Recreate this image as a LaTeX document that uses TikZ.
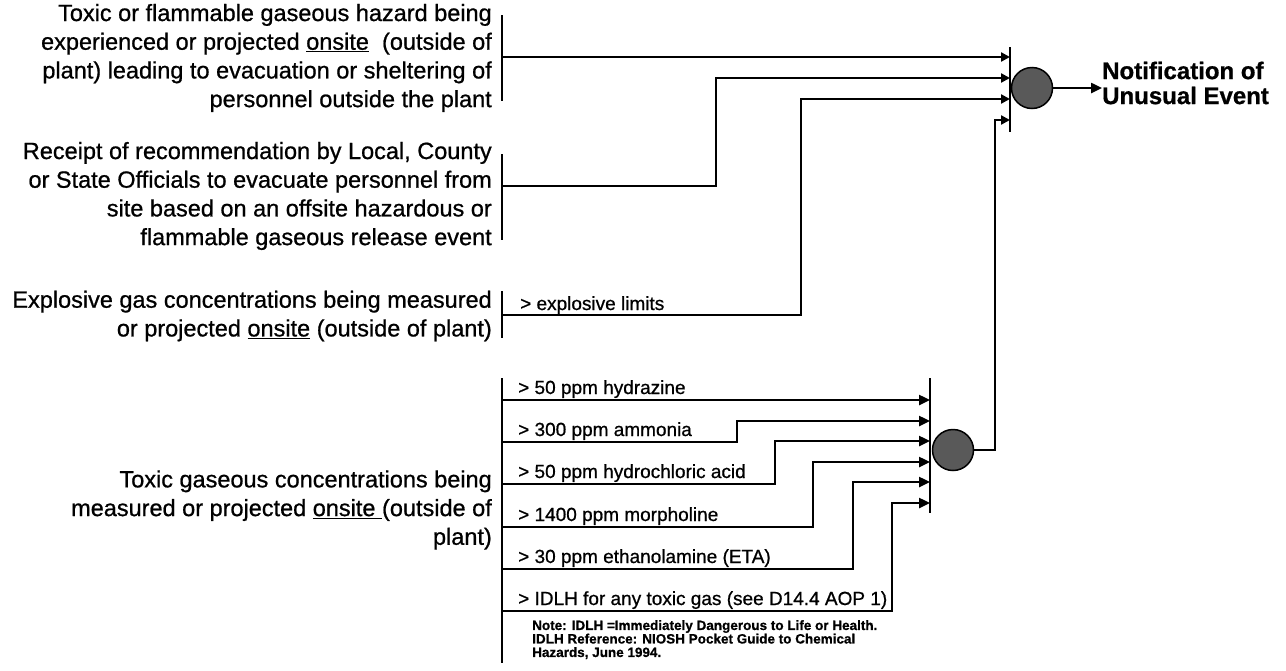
\documentclass[tikz,border=0pt]{standalone}
\usepackage{fontspec}
\setmainfont{Liberation Sans}[FakeBold=0.8]
\usetikzlibrary{arrows.meta,positioning}

\begin{document}
\begin{tikzpicture}[x=1pt, y=-1pt,
    cause/.style={anchor=east, align=right, inner sep=0pt, font=\fontsize{23.5}{28.7}\selectfont},
    crit/.style={anchor=base west, inner sep=0pt, font=\fontsize{19}{22}\selectfont},
    brk/.style={line width=2.8pt},
    arr/.style={-{Triangle[length=11pt, width=10pt]}, line width=2.4pt},
    arrsmall/.style={-{Triangle[length=9pt, width=9pt]}, line width=2.4pt},
    gate/.style={circle, draw, line width=1.5pt, fill=black!65, minimum size=41pt, inner sep=0pt}
]
  \useasboundingbox (0,0) rectangle (1286,670);
  % causes
  \node[cause] (hazard) at (492,58) {Toxic or flammable gaseous hazard being\\experienced or projected \underline{onsite}\ \ (outside of\\plant) leading to evacuation or sheltering of\\personnel outside the plant};
  \node[cause] (recommend) at (492,196) {Receipt of recommendation by Local, County\\or State Officials to evacuate personnel from\\site based on an offsite hazardous or\\flammable gaseous release event};
  \node[cause] (explosive) at (492,316) {Explosive gas concentrations being measured\\or projected \underline{onsite} (outside of plant)};
  \node[cause] (toxic) at (492,510) {Toxic gaseous concentrations being\\measured or projected \underline{onsite\ }(outside of\\plant)};
  % brackets
  \draw[brk] (502,15) -- (502,101);
  \draw[brk] (502,154) -- (502,240);
  \draw[brk] (502,291) -- (502,338);
  \draw[brk] (502,378) -- (502,663);
  \coordinate (hazOut) at (502,57);
  \coordinate (recOut) at (502,186);
  \coordinate (expOut) at (502,315);
  % gates
  \node[gate] (gateA) at (1032,88) {};
  \node[gate] (gateB) at (953,450) {};
  \draw[brk] (1010,47) -- (1010,132);
  \draw[brk] (930,378) -- (930,513);
  \node[anchor=west, align=left, inner sep=0pt, font=\bfseries\fontsize{24}{25}\selectfont] (unusual) at (1102,83) {Notification of\\Unusual Event};
  \draw[arr] (gateA) -- (gateA -| unusual.west);
  \coordinate (inA1) at (1010,57);
  \coordinate (inA2) at (1010,78);
  \coordinate (inA3) at (1010,99);
  \coordinate (inA4) at (1010,120);
  \coordinate (recBend) at (716,0);
  \coordinate (expBend) at (801,0);
  \coordinate (toxBend) at (995,0);
  \draw[arrsmall] (hazOut) -- (inA1);
  \draw[arrsmall] (recOut) -- (recOut -| recBend) |- (inA2);
  \draw[arrsmall] (expOut) -- (expOut -| expBend) |- (inA3);
  \draw[arrsmall] (gateB) -- (gateB -| toxBend) |- (inA4);
  \node[crit] (explim) at (520,310) {> explosive limits};
  % toxic gas criteria
  \coordinate (out1) at (502,400);
  \coordinate (out2) at (502,442);
  \coordinate (out3) at (502,484);
  \coordinate (out4) at (502,527);
  \coordinate (out5) at (502,569);
  \coordinate (out6) at (502,611);
  \coordinate (inB1) at (930,400);
  \coordinate (inB2) at (930,421);
  \coordinate (inB3) at (930,441);
  \coordinate (inB4) at (930,462);
  \coordinate (inB5) at (930,482);
  \coordinate (inB6) at (930,503);
  \node[crit] (hydrazine) at (518,394) {> 50 ppm hydrazine};
  \node[crit] (ammonia) at (518,436) {> 300 ppm ammonia};
  \node[crit] (hcl) at (518,478) {> 50 ppm hydrochloric acid};
  \node[crit] (morpholine) at (518,521) {> 1400 ppm morpholine};
  \node[crit] (eta) at (518,563) {> 30 ppm ethanolamine (ETA)};
  \node[crit] (idlh) at (518,605) {> IDLH for any toxic gas (see D14.4 AOP 1)};
  \coordinate (bend2) at (737,0);
  \coordinate (bend3) at (775,0);
  \coordinate (bend4) at (813,0);
  \coordinate (bend5) at (853,0);
  \coordinate (bend6) at (892,0);
  \draw[arr] (out1) -- (inB1);
  \draw[arr] (out2) -- (out2 -| bend2) |- (inB2);
  \draw[arr] (out3) -- (out3 -| bend3) |- (inB3);
  \draw[arr] (out4) -- (out4 -| bend4) |- (inB4);
  \draw[arr] (out5) -- (out5 -| bend5) |- (inB5);
  \draw[arr] (out6) -- (out6 -| bend6) |- (inB6);
  \node[anchor=north west, align=left, inner sep=0pt, font=\bfseries\fontsize{13.5}{13.5}\selectfont] (note) at (532,620) {Note: IDLH =Immediately Dangerous to Life or Health.\\IDLH Reference: NIOSH Pocket Guide to Chemical\\Hazards, June 1994.};
\end{tikzpicture}
\end{document}
